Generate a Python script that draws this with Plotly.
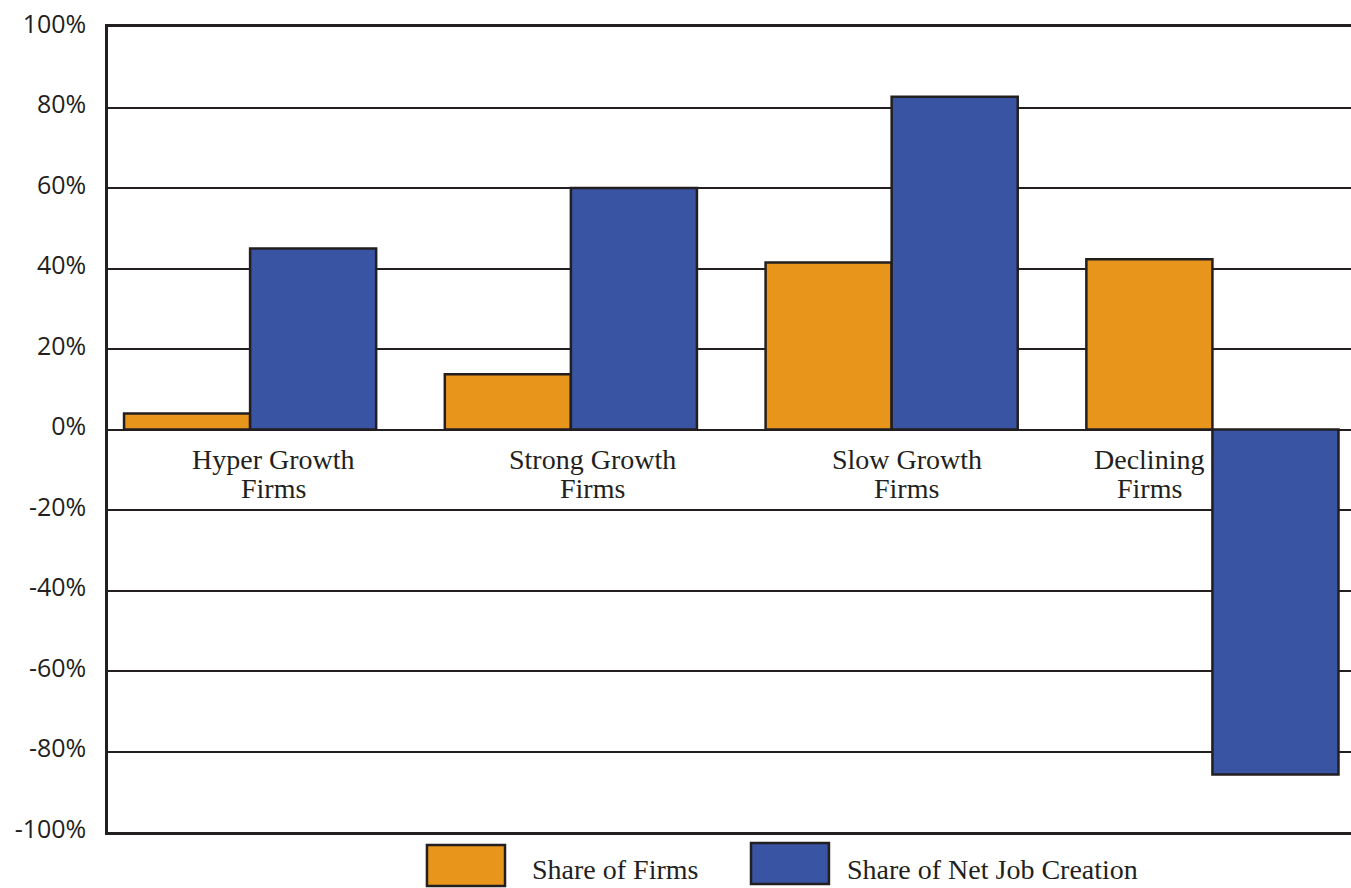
import plotly.graph_objects as go

# Firm growth categories and their shares (%)
categories = ["Hyper Growth Firms", "Strong Growth Firms", "Slow Growth Firms", "Declining Firms"]
label_line1 = ["Hyper Growth", "Strong Growth", "Slow Growth", "Declining"]
label_line2 = ["Firms", "Firms", "Firms", "Firms"]
share_of_firms = [4.0, 13.7, 41.5, 42.3]
share_of_net_job_creation = [45.0, 60.0, 82.7, -85.7]

tick_values = [-100, -80, -60, -40, -20, 0, 20, 40, 60, 80, 100]
tick_labels = ["-100%", "-80%", "-60%", "-40%", "-20%", "0%", "20%", "40%", "60%", "80%", "100%"]

ORANGE = "#E8951B"
BLUE = "#3854A3"
INK = "#231F20"
SERIF = "Liberation Serif, Times New Roman, serif"
SANS = "Open Sans, Liberation Sans, Arial, sans-serif"

fig = go.Figure()
fig.add_trace(go.Bar(
    x=categories, y=share_of_firms, name="Share of Firms",
    marker=dict(color=ORANGE, line=dict(color=INK, width=2.5)),
))
fig.add_trace(go.Bar(
    x=categories, y=share_of_net_job_creation, name="Share of Net Job Creation",
    marker=dict(color=BLUE, line=dict(color=INK, width=2.5)),
))

# Two-line category labels just below the zero line
label_xshift = [23, 22, 15, -63]
for cat, l1, l2, dx in zip(categories, label_line1, label_line2, label_xshift):
    fig.add_annotation(x=cat, y=0, text=l1, showarrow=False, xshift=dx, yshift=-30,
                       xanchor="center", yanchor="middle",
                       font=dict(family=SERIF, size=28, color=INK))
    fig.add_annotation(x=cat, y=0, text=l2, showarrow=False, xshift=dx, yshift=-59,
                       xanchor="center", yanchor="middle",
                       font=dict(family=SERIF, size=28, color=INK))

# Legend drawn below the plot with large swatches
legend_items = [
    ("Share of Firms", ORANGE, 0.2566, 0.3194, -0.0671, -0.0161, 0.3395, -0.0460),
    ("Share of Net Job Creation", BLUE, 0.5173, 0.5800, -0.0646, -0.0137, 0.5929, -0.0470),
]
for text, color, x0, x1, y0, y1, tx, ty in legend_items:
    fig.add_shape(type="rect", xref="paper", yref="paper", x0=x0, x1=x1, y0=y0, y1=y1,
                  fillcolor=color, line=dict(color=INK, width=2.5))
    fig.add_annotation(xref="paper", yref="paper", x=tx, y=ty, text=text, showarrow=False,
                       xanchor="left", yanchor="middle",
                       font=dict(family=SERIF, size=28, color=INK))

fig.update_layout(
    width=1351, height=888,
    margin=dict(l=108, r=0, t=27, b=56),
    paper_bgcolor="white", plot_bgcolor="white",
    barmode="group", bargap=0.214, bargroupgap=0,
    showlegend=False,
)
fig.update_xaxes(
    range=[-0.443, 3.432], showticklabels=False, ticks="",
    showgrid=False, showline=True, linecolor=INK, linewidth=2.5, mirror=True,
    zeroline=False,
)
fig.update_yaxes(
    range=[-100, 100], tickvals=tick_values, ticktext=tick_labels,
    ticks="", ticklabelstandoff=14, ticklabelshift=-3,
    tickfont=dict(family=SANS, size=25, color=INK),
    showgrid=True, gridcolor=INK, gridwidth=2,
    zeroline=True, zerolinecolor=INK, zerolinewidth=2,
    showline=True, linecolor=INK, linewidth=2.5,
)

fig.write_html("out.html")
